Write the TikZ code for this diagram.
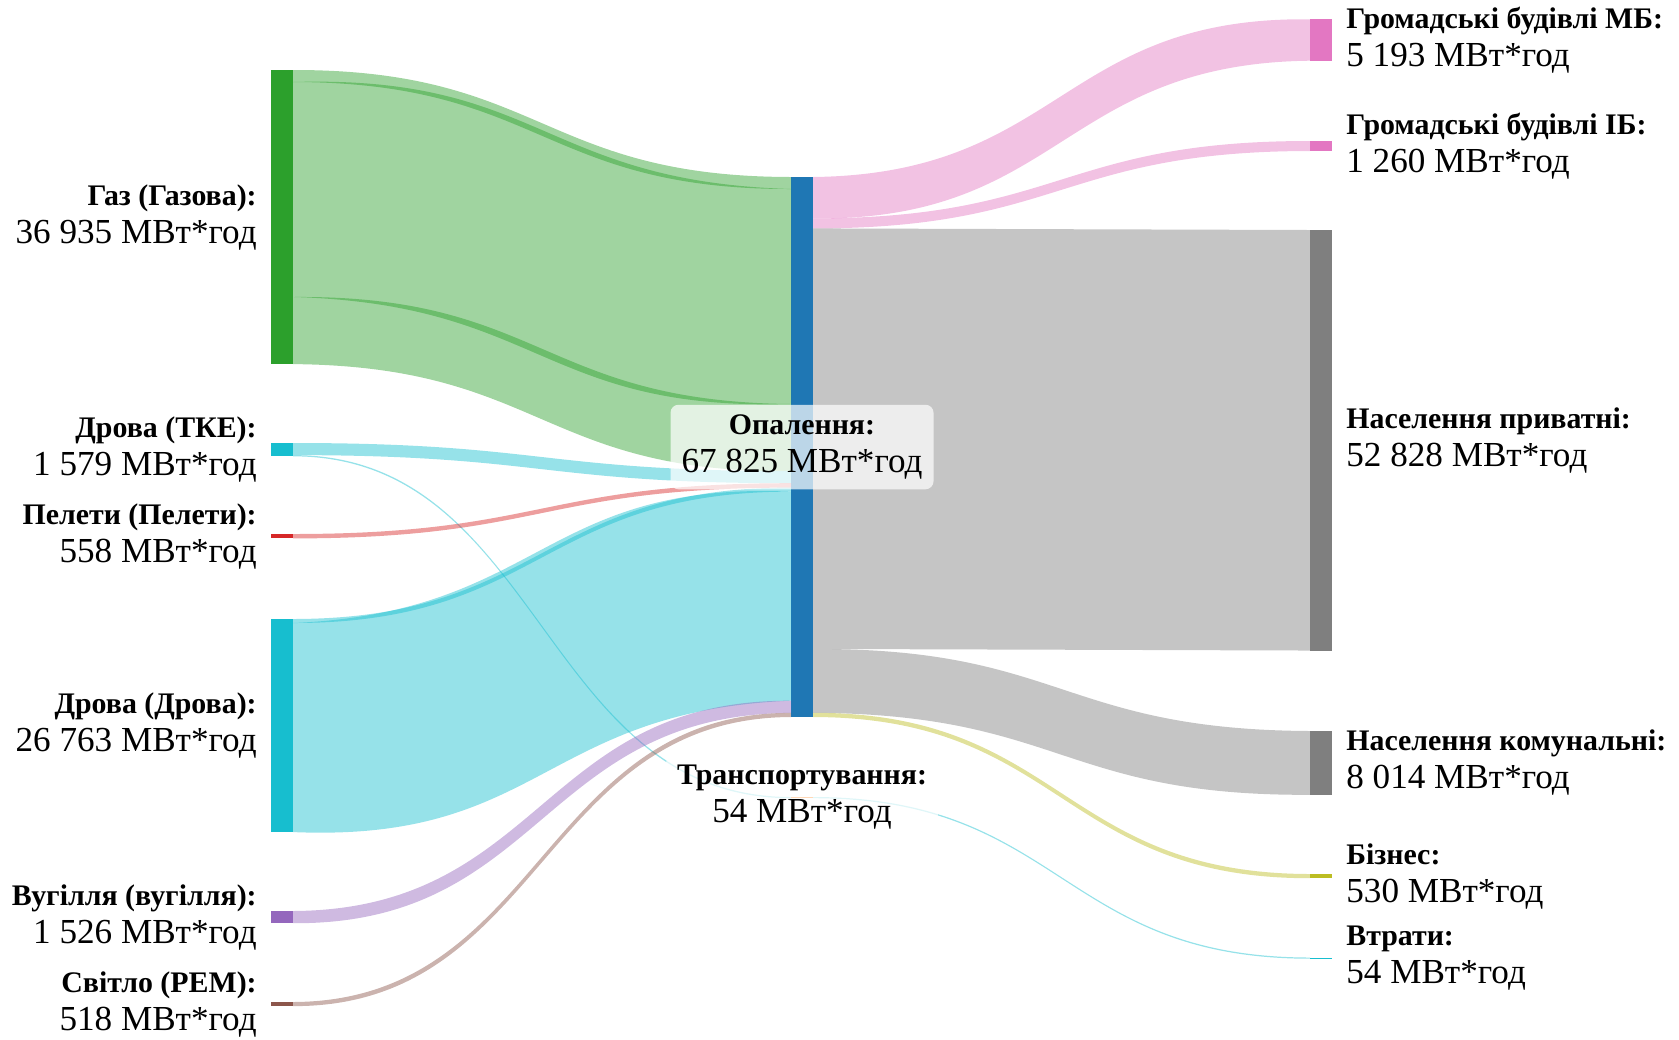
\documentclass[tikz,border=0pt]{standalone}
\usepackage{fontspec}
\setmainfont{Liberation Serif}
\usetikzlibrary{calc,positioning}
\def\px{0.02cm}
\definecolor{gasc}{HTML}{2CA02C}
\definecolor{woodc}{HTML}{17BECF}
\definecolor{pelc}{HTML}{D62728}
\definecolor{coalc}{HTML}{9467BD}
\definecolor{lightc}{HTML}{8C564B}
\definecolor{heatc}{HTML}{1F77B4}
\definecolor{transc}{HTML}{FF7F0E}
\definecolor{pinkc}{HTML}{E377C2}
\definecolor{grayc}{HTML}{7F7F7F}
\definecolor{olivec}{HTML}{BCBD22}
\newcommand{\hd}[1]{{\fontsize{17}{21.6}\selectfont\bfseries #1}}
\newcommand{\band}[6]{%
  \fill[#6,fill opacity=0.45] let
    \p1=($(#1.north east)+(0,#2)$), \p2=($(#3.north west)+(0,#4)$),
    \n1={#5*0.5690551}, \n2={\n1/2*(sqrt(1+(1.5*(\y2-\y1)/(\x2-\x1))^2)-1)/0.75}
  in (\p1) .. controls ({(\x1+\x2)/2},{\y1+\n2}) and ({(\x1+\x2)/2},{\y2+\n2}) .. (\p2)
    -- ({\x2},{\y2-\n1}) .. controls ({(\x1+\x2)/2},{\y2-\n1-\n2}) and ({(\x1+\x2)/2},{\y1-\n1-\n2}) .. ({\x1},{\y1-\n1}) -- cycle;}

\begin{document}
\begin{tikzpicture}[x=\px,y=-\px]
  \tikzstyle{bar}=[rectangle,anchor=north west,inner sep=0pt,outer sep=0pt,minimum width=22*\px]
  \tikzstyle{lab}=[font=\fontsize{20}{21.6}\selectfont,inner sep=0pt]
  \tikzstyle{midlab}=[lab,align=center,fill=white,fill opacity=0.7,text opacity=1,rounded corners=0.16cm,inner xsep=0.22cm,inner ysep=0.2cm]

  \useasboundingbox (0,0) rectangle (1679,1039);

  \foreach \name/\y/\h/\col in {gas/70/294.1/gasc,tke/443/12.6/woodc,pel/534/4.4/pelc,wood/619/213.1/woodc,coal/911/12.2/coalc,light/1002/4.1/lightc}
    \node[bar,fill=\col,minimum height=\h*\px] (\name) at (271,\y) {};

  \node[bar,fill=heatc,minimum height=540*\px] (heat) at (791,177) {};
  \node[bar,fill=transc,minimum height=1*\px] (trans) at (791,797) {};

  \foreach \name/\y/\h/\col in {mb/19.3/41.4/pinkc,ib/141/10/pinkc,priv/230/420.6/grayc,comm/731/63.8/grayc,biz/874/4.2/olivec,loss/957.5/1.5/woodc}
    \node[bar,fill=\col,minimum height=\h*\px] (\name) at (1310,\y) {};

  \foreach \src/\a/\dst/\b/\w/\col in {gas/0/heat/0/12/gasc,gas/12/heat/12/215/gasc,gas/227/heat/227/67.1/gasc,
      tke/0/heat/294.1/12.1/woodc,tke/12.1/trans/0/1.2/woodc,pel/0/heat/306.2/4.4/pelc,
      wood/0/heat/310.6/4/woodc,wood/4/heat/314.6/209.1/woodc,coal/0/heat/523.7/12.2/coalc,light/0/heat/535.9/4.1/lightc,
      heat/0/mb/0/41.4/pinkc,heat/41.4/ib/0/10/pinkc,heat/51.4/priv/0/420.6/grayc,heat/472/comm/0/63.8/grayc,
      heat/535.8/biz/0/4.2/olivec,trans/0/loss/0/1.2/woodc}
    {\band{\src}{\a}{\dst}{\b}{\w}{\col}}

  \foreach \name/\txt/\val in {gas/Газ (Газова)/36 935,tke/Дрова (ТКЕ)/1 579,pel/Пелети (Пелети)/558,wood/Дрова (Дрова)/26 763,coal/Вугілля (вугілля)/1 526,light/Світло (РЕМ)/518}
    \node[lab,align=right,left=0.28cm of \name] (\name-lab) {\hd{\txt:}\\\val{} МВт*год};

  \foreach \name/\txt/\val in {mb/Громадські будівлі МБ/5 193,ib/Громадські будівлі ІБ/1 260,priv/Населення приватні/52 828,comm/Населення комунальні/8 014,biz/Бізнес/530,loss/Втрати/54}
    \node[lab,align=left,right=0.28cm of \name] (\name-lab) {\hd{\txt:}\\\val{} МВт*год};

  \node[midlab] (heat-lab) at (heat.center) {\hd{Опалення:}\\67 825 МВт*год};
  \node[midlab] (trans-lab) at (trans.center) {\hd{Транспортування:}\\54 МВт*год};
\end{tikzpicture}
\end{document}
